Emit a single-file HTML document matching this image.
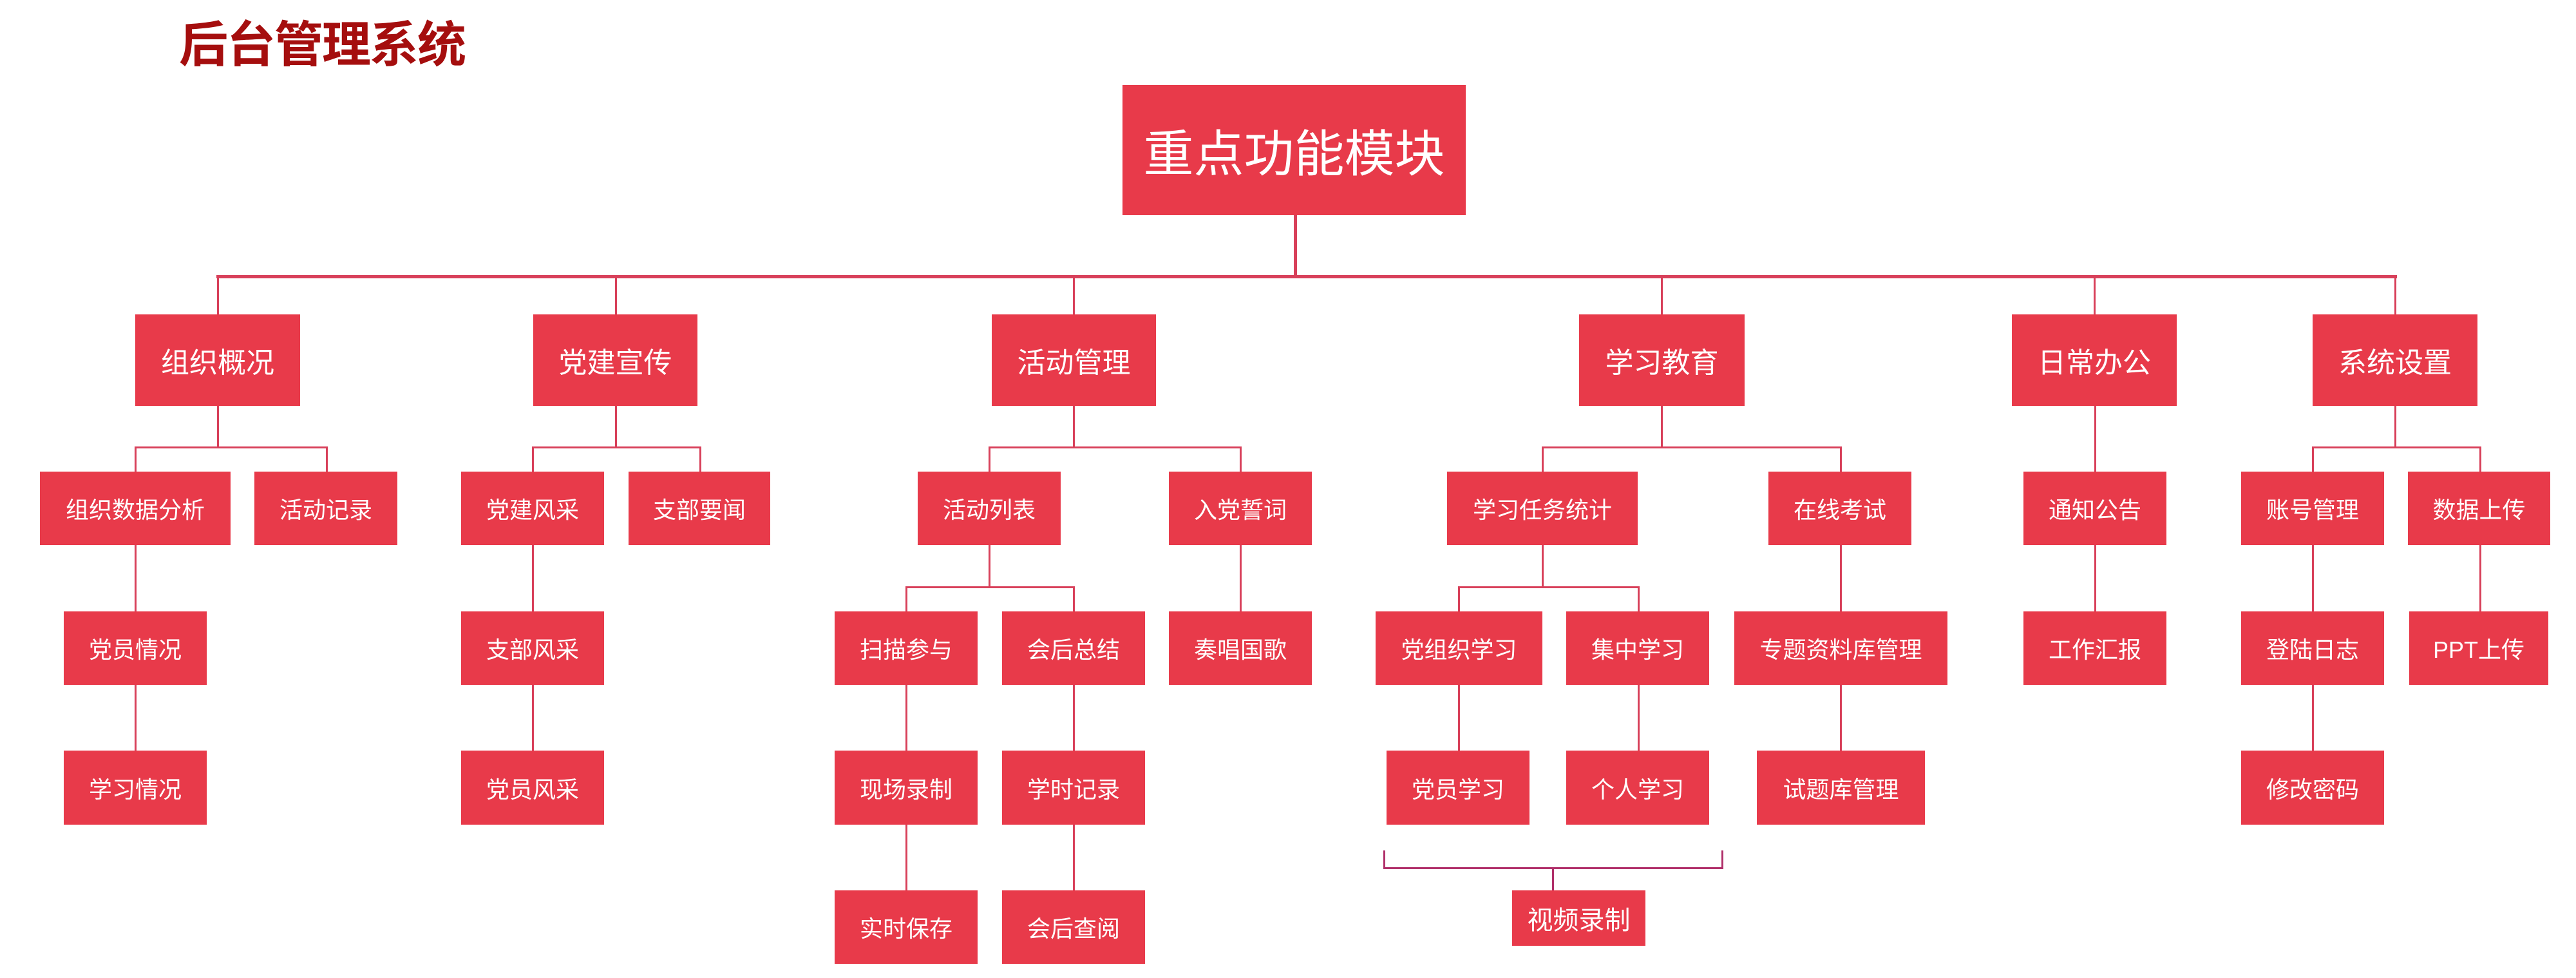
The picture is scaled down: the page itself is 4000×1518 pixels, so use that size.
<!DOCTYPE html>
<html><head><meta charset="utf-8"><style>
html,body{margin:0;padding:0;background:#fff;}
body{width:4000px;height:1518px;position:relative;overflow:hidden;font-family:"Liberation Sans","Noto Sans CJK SC",sans-serif;}
.b{position:absolute;background:#e83a4a;color:#fff;display:flex;align-items:center;justify-content:center;white-space:nowrap;}
.l1{font-size:44px;}
.l2{font-size:36px;}
.h{position:absolute;background:#d8405a;height:3px;}
.v{position:absolute;background:#d8405a;width:3px;}
.t{position:absolute;left:278px;top:8px;font-size:76px;font-weight:bold;color:#a50e0e;font-family:"Noto Sans CJK SC",sans-serif;letter-spacing:-2px;}
</style></head><body>
<div class="t">后台管理系统</div>

<div class="b" style="left:1743px;top:132px;width:533px;height:202px;font-size:78px;">重点功能模块</div>
<div class="v" style="left:2009px;top:334px;height:96px;width:5px;"></div>
<div class="h" style="left:336px;top:427px;width:3386px;height:5px;"></div>

<!-- level1 stems -->
<div class="v" style="left:337px;top:430px;height:58px;"></div>
<div class="v" style="left:955px;top:430px;height:58px;"></div>
<div class="v" style="left:1666px;top:430px;height:58px;"></div>
<div class="v" style="left:2579px;top:430px;height:58px;"></div>
<div class="v" style="left:3251px;top:430px;height:58px;"></div>
<div class="v" style="left:3718px;top:430px;height:58px;"></div>

<div class="b l1" style="left:210px;top:488px;width:256px;height:142px;">组织概况</div>
<div class="b l1" style="left:828px;top:488px;width:255px;height:142px;">党建宣传</div>
<div class="b l1" style="left:1540px;top:488px;width:255px;height:142px;">活动管理</div>
<div class="b l1" style="left:2452px;top:488px;width:257px;height:142px;">学习教育</div>
<div class="b l1" style="left:3124px;top:488px;width:256px;height:142px;">日常办公</div>
<div class="b l1" style="left:3591px;top:488px;width:256px;height:142px;">系统设置</div>

<!-- level1 -> level2 connectors -->
<div class="v" style="left:337px;top:630px;height:64px;"></div>
<div class="h" style="left:210px;top:693px;width:299px;"></div>
<div class="v" style="left:209px;top:693px;height:39px;"></div>
<div class="v" style="left:506px;top:693px;height:39px;"></div>

<div class="v" style="left:955px;top:630px;height:64px;"></div>
<div class="h" style="left:827px;top:693px;width:262px;"></div>
<div class="v" style="left:826px;top:693px;height:39px;"></div>
<div class="v" style="left:1086px;top:693px;height:39px;"></div>

<div class="v" style="left:1666px;top:630px;height:64px;"></div>
<div class="h" style="left:1536px;top:693px;width:392px;"></div>
<div class="v" style="left:1535px;top:693px;height:39px;"></div>
<div class="v" style="left:1925px;top:693px;height:39px;"></div>

<div class="v" style="left:2579px;top:630px;height:64px;"></div>
<div class="h" style="left:2395px;top:693px;width:465px;"></div>
<div class="v" style="left:2394px;top:693px;height:39px;"></div>
<div class="v" style="left:2857px;top:693px;height:39px;"></div>

<div class="v" style="left:3252px;top:630px;height:102px;"></div>

<div class="v" style="left:3718px;top:630px;height:64px;"></div>
<div class="h" style="left:3591px;top:693px;width:262px;"></div>
<div class="v" style="left:3590px;top:693px;height:39px;"></div>
<div class="v" style="left:3850px;top:693px;height:39px;"></div>

<!-- level2 -->
<div class="b l2" style="left:62px;top:732px;width:296px;height:114px;">组织数据分析</div>
<div class="b l2" style="left:395px;top:732px;width:222px;height:114px;">活动记录</div>
<div class="b l2" style="left:716px;top:732px;width:222px;height:114px;">党建风采</div>
<div class="b l2" style="left:976px;top:732px;width:220px;height:114px;">支部要闻</div>
<div class="b l2" style="left:1425px;top:732px;width:222px;height:114px;">活动列表</div>
<div class="b l2" style="left:1815px;top:732px;width:222px;height:114px;">入党誓词</div>
<div class="b l2" style="left:2247px;top:732px;width:296px;height:114px;">学习任务统计</div>
<div class="b l2" style="left:2746px;top:732px;width:222px;height:114px;">在线考试</div>
<div class="b l2" style="left:3142px;top:732px;width:222px;height:114px;">通知公告</div>
<div class="b l2" style="left:3480px;top:732px;width:222px;height:114px;">账号管理</div>
<div class="b l2" style="left:3739px;top:732px;width:221px;height:114px;">数据上传</div>

<!-- level2 -> level3 -->
<div class="v" style="left:209px;top:846px;height:103px;"></div>
<div class="v" style="left:826px;top:846px;height:103px;"></div>
<div class="v" style="left:1535px;top:846px;height:65px;"></div>
<div class="h" style="left:1407px;top:910px;width:262px;"></div>
<div class="v" style="left:1406px;top:910px;height:39px;"></div>
<div class="v" style="left:1666px;top:910px;height:39px;"></div>
<div class="v" style="left:1925px;top:846px;height:103px;"></div>
<div class="v" style="left:2394px;top:846px;height:65px;"></div>
<div class="h" style="left:2265px;top:910px;width:281px;"></div>
<div class="v" style="left:2264px;top:910px;height:39px;"></div>
<div class="v" style="left:2543px;top:910px;height:39px;"></div>
<div class="v" style="left:2857px;top:846px;height:103px;"></div>
<div class="v" style="left:3252px;top:846px;height:103px;"></div>
<div class="v" style="left:3590px;top:846px;height:103px;"></div>
<div class="v" style="left:3850px;top:846px;height:103px;"></div>

<!-- level3 -->
<div class="b l2" style="left:99px;top:949px;width:222px;height:114px;">党员情况</div>
<div class="b l2" style="left:716px;top:949px;width:222px;height:114px;">支部风采</div>
<div class="b l2" style="left:1296px;top:949px;width:222px;height:114px;">扫描参与</div>
<div class="b l2" style="left:1556px;top:949px;width:222px;height:114px;">会后总结</div>
<div class="b l2" style="left:1815px;top:949px;width:222px;height:114px;">奏唱国歌</div>
<div class="b l2" style="left:2136px;top:949px;width:259px;height:114px;">党组织学习</div>
<div class="b l2" style="left:2432px;top:949px;width:222px;height:114px;">集中学习</div>
<div class="b l2" style="left:2693px;top:949px;width:331px;height:114px;">专题资料库管理</div>
<div class="b l2" style="left:3142px;top:949px;width:222px;height:114px;">工作汇报</div>
<div class="b l2" style="left:3480px;top:949px;width:222px;height:114px;">登陆日志</div>
<div class="b l2" style="left:3741px;top:949px;width:216px;height:114px;">PPT上传</div>

<!-- level3 -> level4 -->
<div class="v" style="left:209px;top:1063px;height:102px;"></div>
<div class="v" style="left:826px;top:1063px;height:102px;"></div>
<div class="v" style="left:1406px;top:1063px;height:102px;"></div>
<div class="v" style="left:1666px;top:1063px;height:102px;"></div>
<div class="v" style="left:2264px;top:1063px;height:102px;"></div>
<div class="v" style="left:2543px;top:1063px;height:102px;"></div>
<div class="v" style="left:2857px;top:1063px;height:102px;"></div>
<div class="v" style="left:3590px;top:1063px;height:102px;"></div>

<!-- level4 -->
<div class="b l2" style="left:99px;top:1165px;width:222px;height:115px;">学习情况</div>
<div class="b l2" style="left:716px;top:1165px;width:222px;height:115px;">党员风采</div>
<div class="b l2" style="left:1296px;top:1165px;width:222px;height:115px;">现场录制</div>
<div class="b l2" style="left:1556px;top:1165px;width:222px;height:115px;">学时记录</div>
<div class="b l2" style="left:2153px;top:1165px;width:222px;height:115px;">党员学习</div>
<div class="b l2" style="left:2432px;top:1165px;width:222px;height:115px;">个人学习</div>
<div class="b l2" style="left:2728px;top:1165px;width:261px;height:115px;">试题库管理</div>
<div class="b l2" style="left:3480px;top:1165px;width:222px;height:115px;">修改密码</div>

<!-- level4 -> level5 -->
<div class="v" style="left:1406px;top:1280px;height:102px;"></div>
<div class="v" style="left:1666px;top:1280px;height:102px;"></div>

<div class="b l2" style="left:1296px;top:1382px;width:222px;height:114px;">实时保存</div>
<div class="b l2" style="left:1556px;top:1382px;width:222px;height:114px;">会后查阅</div>

<!-- bracket -->
<div class="v" style="left:2148px;top:1320px;height:28px;background:#b0306a;"></div>
<div class="v" style="left:2673px;top:1320px;height:28px;background:#b0306a;"></div>
<div class="h" style="left:2148px;top:1346px;width:528px;background:#b0306a;"></div>
<div class="v" style="left:2410px;top:1346px;height:36px;background:#b0306a;"></div>
<div class="b" style="left:2348px;top:1382px;width:207px;height:86px;font-size:40px;">视频录制</div>
</body></html>
